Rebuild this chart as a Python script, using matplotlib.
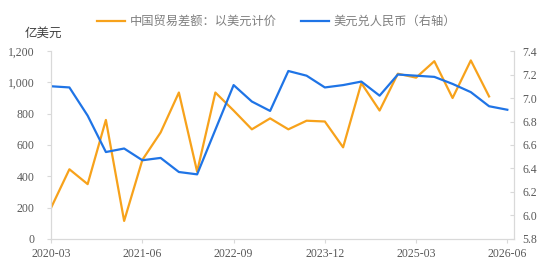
import numpy as np
import matplotlib.pyplot as plt

plt.rcParams['font.family'] = ['Liberation Serif', 'Noto Sans CJK SC']

# quarterly data, 2020-03 .. 2026-06
tick_labels = ['2020-03', '2021-06', '2022-09', '2023-12', '2025-03', '2026-06']
trade_balance = [200, 445, 350, 760, 115, 505, 680, 935, 430, 935, 820, 700, 770,
                 700, 755, 750, 585, 995, 820, 1055, 1030, 1135, 900, 1140, 910]
usdcny = [7.10, 7.09, 6.85, 6.54, 6.57, 6.47, 6.49, 6.37, 6.35, 6.73, 7.11, 6.97, 6.89,
          7.23, 7.19, 7.09, 7.11, 7.14, 7.02, 7.20, 7.19, 7.18, 7.12, 7.05, 6.93, 6.90]

orange = '#F7A21B'
blue = '#1F74E6'
grey = '#595959'
spine_c = '#D9D9D9'

fig = plt.figure(figsize=(5.5, 2.7), dpi=100)
ax = fig.add_axes([0.093, 0.115, 0.842, 0.696])
ax2 = ax.twinx()

l1, = ax.plot(np.arange(len(trade_balance)), trade_balance, color=orange, lw=1.6,
              label='中国贸易差额：以美元计价')
l2, = ax2.plot(np.arange(len(usdcny)), usdcny, color=blue, lw=1.6,
               label='美元兑人民币（右轴）')

ax.set_xlim(0, 25.38)
ax.set_ylim(0, 1200)
ax.set_yticks(range(0, 1201, 200))
ax.set_yticklabels([f'{v:,}' for v in range(0, 1201, 200)])
ax2.set_ylim(5.8, 7.4)
ax2.set_yticks(np.arange(5.8, 7.41, 0.2))
ax2.set_yticklabels([f'{v:.1f}' for v in np.arange(5.8, 7.41, 0.2)])
ax.set_xticks(range(0, 26, 5))
ax.set_xticklabels(tick_labels)

for a in (ax, ax2):
    a.spines['top'].set_visible(False)
    for s in ('left', 'right', 'bottom'):
        a.spines[s].set_color(spine_c)
    a.tick_params(colors=grey, labelsize=8.5, length=3, color=spine_c)
ax.tick_params(axis='y', pad=9)
ax2.tick_params(axis='y', direction='in', pad=6)

fig.text(0.045, 0.862, '亿美元', fontsize=9, color='#404040', family=['Noto Sans CJK SC'])
leg = fig.legend(handles=[l1, l2], loc='center', bbox_to_anchor=(0.503, 0.92), ncol=2,
                 frameon=False, prop={'family': ['Noto Sans CJK SC'], 'size': 8.8},
                 handlelength=2.3, columnspacing=2.0, handletextpad=0.35)
for t in leg.get_texts():
    t.set_color('#7F7F7F')

fig.savefig('out.png', dpi=100)
